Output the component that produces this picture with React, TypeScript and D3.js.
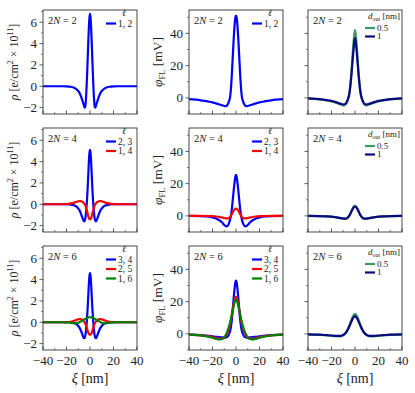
import React from 'react'
import * as d3 from 'd3'

// sampled positions along xi (nm)
const XI = [-40,-30,-24,-20,-17,-14,-12,-10,-9,-8,-7,-6,-5,-4.5,-4,-3.5,-3,-2.5,-2,-1.5,-1,-0.5,0,0.5,1,1.5,2,2.5,3,3.5,4,4.5,5,6,7,8,9,10,12,14,17,20,24,30,40]

// charge density rho
const rhoN2_12 = [0,0,0,-0.01,-0.04,-0.12,-0.25,-0.45,-0.6,-0.85,-1.15,-1.5,-1.85,-2.0,-1.9,-1.3,-0.3,1.0,2.5,4.0,5.4,6.4,6.8,6.4,5.4,4.0,2.5,1.0,-0.3,-1.3,-1.9,-2.0,-1.85,-1.5,-1.15,-0.85,-0.6,-0.45,-0.25,-0.12,-0.04,-0.01,0,0,0]
const rhoN4_23 = [0,0,0,0,-0.02,-0.08,-0.18,-0.4,-0.55,-0.8,-1.1,-1.4,-1.6,-1.55,-1.35,-0.9,-0.3,0.5,1.5,2.7,3.9,4.8,5.1,4.8,3.9,2.7,1.5,0.5,-0.3,-0.9,-1.35,-1.55,-1.6,-1.4,-1.1,-0.8,-0.55,-0.4,-0.18,-0.08,-0.02,0,0,0,0]
const rhoN4_14 = [0,0,0,0.02,0.06,0.13,0.2,0.28,0.3,0.3,0.27,0.2,0.08,0,-0.1,-0.25,-0.45,-0.65,-0.9,-1.1,-1.28,-1.38,-1.4,-1.38,-1.28,-1.1,-0.9,-0.65,-0.45,-0.25,-0.1,0,0.08,0.2,0.27,0.3,0.3,0.28,0.2,0.13,0.06,0.02,0,0,0]
const rhoN6_34 = [0,0,0,0,-0.02,-0.07,-0.15,-0.35,-0.5,-0.72,-1.0,-1.3,-1.5,-1.45,-1.25,-0.85,-0.3,0.45,1.35,2.4,3.5,4.3,4.6,4.3,3.5,2.4,1.35,0.45,-0.3,-0.85,-1.25,-1.45,-1.5,-1.3,-1.0,-0.72,-0.5,-0.35,-0.15,-0.07,-0.02,0,0,0,0]
const rhoN6_25 = [0,0,0,0.02,0.05,0.12,0.2,0.27,0.3,0.3,0.27,0.18,0.06,-0.02,-0.12,-0.25,-0.42,-0.6,-0.8,-0.97,-1.08,-1.15,-1.17,-1.15,-1.08,-0.97,-0.8,-0.6,-0.42,-0.25,-0.12,-0.02,0.06,0.18,0.27,0.3,0.3,0.27,0.2,0.12,0.05,0.02,0,0,0]
const rhoN6_16 = [0,0,0,-0.02,-0.04,-0.08,-0.1,-0.05,0,0.06,0.13,0.2,0.27,0.3,0.33,0.36,0.39,0.41,0.43,0.45,0.46,0.47,0.47,0.47,0.46,0.45,0.43,0.41,0.39,0.36,0.33,0.3,0.27,0.2,0.13,0.06,0,-0.05,-0.1,-0.08,-0.04,-0.02,0,0,0]

// potential phi_FL (mV)
const phiN2_12 = [-0.8,-1.5,-2.2,-2.8,-3.4,-4.1,-4.6,-5.0,-5.2,-4.9,-3.9,-2.2,0.8,4,9,15,22,29,36,42,47,50,51,50,47,42,36,29,22,15,9,4,0.8,-2.2,-3.9,-4.9,-5.2,-5.0,-4.6,-4.1,-3.4,-2.8,-2.2,-1.5,-0.8]
const phiN4_23 = [0,-0.1,-0.4,-0.9,-1.6,-2.8,-4.0,-5.6,-6.3,-6.5,-6.0,-4.6,-2.3,-0.5,1.7,4.5,8,11.8,15.5,19,22,24.5,25.5,24.5,22,19,15.5,11.8,8,4.5,1.7,-0.5,-2.3,-4.6,-6.0,-6.5,-6.3,-5.6,-4.0,-2.8,-1.6,-0.9,-0.4,-0.1,0]
const phiN4_14 = [0,0,-0.1,-0.2,-0.4,-0.7,-1.0,-1.3,-1.5,-1.6,-1.6,-1.3,-0.6,-0.1,0.5,1.2,1.9,2.6,3.2,3.7,4.1,4.4,4.5,4.4,4.1,3.7,3.2,2.6,1.9,1.2,0.5,-0.1,-0.6,-1.3,-1.6,-1.6,-1.5,-1.3,-1.0,-0.7,-0.4,-0.2,-0.1,0,0]
const phiN6_34 = [-0.5,-0.8,-1.2,-1.5,-1.8,-2.0,-2.2,-2.3,-2.3,-2.1,-1.5,-0.3,1.8,3.5,6,9,13,17.5,22,26,29.5,32,33,32,29.5,26,22,17.5,13,9,6,3.5,1.8,-0.3,-1.5,-2.1,-2.3,-2.3,-2.2,-2.0,-1.8,-1.5,-1.2,-0.8,-0.5]
const phiN6_25 = [-0.5,-0.9,-1.4,-2.0,-2.6,-3.0,-3.0,-2.4,-1.7,-0.6,1.0,3.2,6,7.8,9.8,12,14.3,16.5,18.6,20.3,21.7,22.6,23,22.6,21.7,20.3,18.6,16.5,14.3,12,9.8,7.8,6,3.2,1.0,-0.6,-1.7,-2.4,-3.0,-3.0,-2.6,-2.0,-1.4,-0.9,-0.5]
const phiN6_16 = [-0.5,-1.0,-1.7,-2.4,-3.1,-3.5,-3.2,-2.0,-1.0,0.4,2.2,4.5,7.2,8.7,10.3,12,13.8,15.5,17.2,18.7,20,21,21.5,21,20,18.7,17.2,15.5,13.8,12,10.3,8.7,7.2,4.5,2.2,0.4,-1.0,-2.0,-3.2,-3.5,-3.1,-2.4,-1.7,-1.0,-0.5]

// phi_FL for two d_out values
const doutN2_05 = [-0.3,-0.9,-1.6,-2.2,-2.8,-3.6,-4.2,-4.6,-4.5,-4.0,-2.8,-0.8,2.2,4.7,8,12,16.5,21.5,27,32,36.5,40,42,40,36.5,32,27,21.5,16.5,12,8,4.7,2.2,-0.8,-2.8,-4.0,-4.5,-4.6,-4.2,-3.6,-2.8,-2.2,-1.6,-0.9,-0.3]
const doutN2_1 = [-0.3,-0.8,-1.4,-1.9,-2.5,-3.2,-3.7,-4.1,-4.0,-3.6,-2.5,-0.8,1.8,4,7,10.5,14.5,19,23.5,28,32,35.5,37,35.5,32,28,23.5,19,14.5,10.5,7,4,1.8,-0.8,-2.5,-3.6,-4.0,-4.1,-3.7,-3.2,-2.5,-1.9,-1.4,-0.8,-0.3]
const doutN4_05 = [0,-0.1,-0.3,-0.5,-0.8,-1.2,-1.5,-1.8,-1.9,-1.9,-1.7,-1.0,0,0.6,1.4,2.2,3.0,3.8,4.6,5.3,5.8,6.2,6.3,6.2,5.8,5.3,4.6,3.8,3.0,2.2,1.4,0.6,0,-1.0,-1.7,-1.9,-1.9,-1.8,-1.5,-1.2,-0.8,-0.5,-0.3,-0.1,0]
const doutN4_1 = [0,-0.1,-0.3,-0.5,-0.8,-1.1,-1.4,-1.6,-1.7,-1.7,-1.5,-0.9,0,0.6,1.3,2.0,2.8,3.5,4.2,4.8,5.3,5.6,5.7,5.6,5.3,4.8,4.2,3.5,2.8,2.0,1.3,0.6,0,-0.9,-1.5,-1.7,-1.7,-1.6,-1.4,-1.1,-0.8,-0.5,-0.3,-0.1,0]
const doutN6_05 = [-0.3,-0.6,-0.9,-1.2,-1.4,-1.5,-1.4,-0.8,-0.2,0.6,1.7,3.2,4.9,5.8,6.8,7.8,8.8,9.7,10.5,11.2,11.8,12.2,12.4,12.2,11.8,11.2,10.5,9.7,8.8,7.8,6.8,5.8,4.9,3.2,1.7,0.6,-0.2,-0.8,-1.4,-1.5,-1.4,-1.2,-0.9,-0.6,-0.3]
const doutN6_1 = [-0.3,-0.5,-0.8,-1.0,-1.2,-1.3,-1.2,-0.7,-0.2,0.5,1.5,2.8,4.3,5.1,6.0,6.9,7.7,8.5,9.3,9.9,10.4,10.8,11,10.8,10.4,9.9,9.3,8.5,7.7,6.9,6.0,5.1,4.3,2.8,1.5,0.5,-0.2,-0.7,-1.2,-1.3,-1.2,-1.0,-0.8,-0.5,-0.3]

const X_TICKS = [-40, -20, 0, 20, 40]
const X_MINOR = [-30, -10, 10, 30]
const RHO_TICKS = [-2, 0, 2, 4, 6]
const RHO_MINOR = [-1, 1, 3, 5, 7]
const PHI_TICKS = [0, 20, 40]
const PHI_MINOR = [-10, 10, 30, 50]
const N_LABELS = ['2', '4', '6']
const DOUT_LABELS = ['0.5', '1']

const BLUE = '#0000ff', RED = '#ff0000', GREEN = '#008000'
const SEAGREEN = '#3a9a62', NAVY = '#0a0a80'

const FONT = 'Liberation Serif, Times New Roman, serif'
const COL_X = [43, 189, 308]
const ROW_Y = [10, 128, 246]
const PW = 94, PH = 104

const minus = (v: number) => String(v).replace('-', '\u2212')

type Series = { values: number[], color: string, label: string }

const rhoRows: Series[][] = [
  [{ values: rhoN2_12, color: BLUE, label: '1, 2' }],
  [{ values: rhoN4_23, color: BLUE, label: '2, 3' }, { values: rhoN4_14, color: RED, label: '1, 4' }],
  [{ values: rhoN6_34, color: BLUE, label: '3, 4' }, { values: rhoN6_25, color: RED, label: '2, 5' }, { values: rhoN6_16, color: GREEN, label: '1, 6' }],
]
const phiRows: Series[][] = [
  [{ values: phiN2_12, color: BLUE, label: '1, 2' }],
  [{ values: phiN4_23, color: BLUE, label: '2, 3' }, { values: phiN4_14, color: RED, label: '1, 4' }],
  [{ values: phiN6_34, color: BLUE, label: '3, 4' }, { values: phiN6_25, color: RED, label: '2, 5' }, { values: phiN6_16, color: GREEN, label: '1, 6' }],
]
const doutRows: Series[][] = [
  [{ values: doutN2_05, color: SEAGREEN, label: DOUT_LABELS[0] }, { values: doutN2_1, color: NAVY, label: DOUT_LABELS[1] }],
  [{ values: doutN4_05, color: SEAGREEN, label: DOUT_LABELS[0] }, { values: doutN4_1, color: NAVY, label: DOUT_LABELS[1] }],
  [{ values: doutN6_05, color: SEAGREEN, label: DOUT_LABELS[0] }, { values: doutN6_1, color: NAVY, label: DOUT_LABELS[1] }],
]

const Panel = ({ col, row, series }: { col: number, row: number, series: Series[] }) => {
  const left = COL_X[col], top = ROW_Y[row]
  const x = d3.scaleLinear().domain([-40, 40]).range([left, left + PW])
  const y = col === 0
    ? d3.scaleLinear().domain([-2.6, 7.15]).range([top + PH, top])
    : d3.scaleLinear().domain([-10, 54.5]).range([top + PH, top])
  const yTicks = col === 0 ? RHO_TICKS : PHI_TICKS
  const yMinor = col === 0 ? RHO_MINOR : PHI_MINOR
  const line = d3.line<number>()
    .x((_, i) => x(XI[i]))
    .y(d => y(d))
    .curve(d3.curveMonotoneX)
  const clipId = `clip-${col}-${row}`
  const right = left + PW
  const bottom = top + PH

  return (
    <g>
      <defs>
        <clipPath id={clipId}><rect x={left} y={top} width={PW} height={PH} /></clipPath>
      </defs>
      <g clipPath={`url(#${clipId})`}>
        {series.map((s, i) => (
          <path key={i} d={line(s.values) || ''} fill="none" stroke={s.color} strokeWidth={2.2} strokeLinejoin="round" />
        ))}
      </g>
      <rect x={left} y={top} width={PW} height={PH} fill="none" stroke="#333" strokeWidth={0.9} />
      {/* x ticks, pointing inward */}
      {X_TICKS.map(t => <line key={'xt' + t} x1={x(t)} x2={x(t)} y1={bottom} y2={bottom - 3.5} stroke="#333" strokeWidth={0.8} />)}
      {X_MINOR.map(t => <line key={'xm' + t} x1={x(t)} x2={x(t)} y1={bottom} y2={bottom - 2} stroke="#333" strokeWidth={0.6} />)}
      {/* y ticks, pointing outward */}
      {yTicks.map(t => <line key={'yt' + t} x1={left} x2={left - 3.5} y1={y(t)} y2={y(t)} stroke="#333" strokeWidth={0.8} />)}
      {yMinor.filter(t => y(t) >= top && y(t) <= bottom).map(t => <line key={'ym' + t} x1={left} x2={left - 2} y1={y(t)} y2={y(t)} stroke="#333" strokeWidth={0.6} />)}
      {col < 2 && yTicks.map(t => (
        <text key={'yl' + t} x={left - 6} y={y(t) + 4.3} textAnchor="end" fontSize={13} fontFamily={FONT} fill="#222">{minus(t)}</text>
      ))}
      {row === 2 && X_TICKS.map(t => (
        <text key={'xl' + t} x={x(t)} y={bottom + 15} textAnchor="middle" fontSize={13} fontFamily={FONT} fill="#222">{minus(t)}</text>
      ))}
      {/* 2N label */}
      <text x={left + 5} y={top + 13.5} fontSize={10.5} fontFamily={FONT} fill="#222">
        2<tspan fontStyle="italic">N</tspan> = {N_LABELS[row]}
      </text>
      {/* legend */}
      {col < 2 ? (
        <g fontFamily={FONT} fontSize={9.5} fill="#222">
          <text x={right - 13} y={top + 6} fontStyle="italic" textAnchor="middle" fontSize={9.5}>ℓ</text>
          {series.map((s, i) => (
            <g key={i}>
              <line x1={right - 31} x2={right - 21} y1={top + 13.5 + i * 9.5} y2={top + 13.5 + i * 9.5} stroke={s.color} strokeWidth={2.2} />
              <text x={right - 19} y={top + 16.8 + i * 9.5}>{s.label}</text>
            </g>
          ))}
        </g>
      ) : (
        <g fontFamily={FONT} fontSize={9} fill="#222">
          <text x={right - 2} y={top + 9} textAnchor="end">
            <tspan fontStyle="italic">d</tspan><tspan fontSize={6} dy={2}>out</tspan><tspan dy={-2}> [nm]</tspan>
          </text>
          {series.map((s, i) => (
            <g key={i}>
              <line x1={right - 37} x2={right - 27} y1={top + 18 + i * 8.5} y2={top + 18 + i * 8.5} stroke={s.color} strokeWidth={2.2} />
              <text x={right - 25} y={top + 20.8 + i * 8.5}>{s.label}</text>
            </g>
          ))}
        </g>
      )}
    </g>
  )
}

export default function App() {
  return (
    <svg width={415} height={393} style={{ position: 'absolute', left: 0, top: 0, background: '#fff' }}>
      {[0, 1, 2].map(r => (
        <g key={r}>
          <Panel col={0} row={r} series={rhoRows[r]} />
          <Panel col={1} row={r} series={phiRows[r]} />
          <Panel col={2} row={r} series={doutRows[r]} />
          <text transform={`translate(18, ${ROW_Y[r] + PH / 2}) rotate(-90)`} textAnchor="middle" fontSize={12} fontFamily={FONT} fill="#222">
            <tspan fontStyle="italic">ρ</tspan> [e/cm<tspan fontSize={8} dy={-5}>2</tspan><tspan dy={5}> × 10</tspan><tspan fontSize={8} dy={-5}>11</tspan><tspan dy={5}>]</tspan>
          </text>
          <text transform={`translate(162, ${ROW_Y[r] + PH / 2}) rotate(-90)`} textAnchor="middle" fontSize={13.5} fontFamily={FONT} fill="#222">
            <tspan fontStyle="italic">φ</tspan><tspan fontSize={8.5} dy={3}>FL</tspan><tspan dy={-3}> [mV]</tspan>
          </text>
        </g>
      ))}
      {[0, 1, 2].map(c => (
        <text key={c} x={COL_X[c] + PW / 2} y={383} textAnchor="middle" fontSize={14} fontFamily={FONT} fill="#222">
          <tspan fontStyle="italic">ξ</tspan> [nm]
        </text>
      ))}
    </svg>
  )
}
